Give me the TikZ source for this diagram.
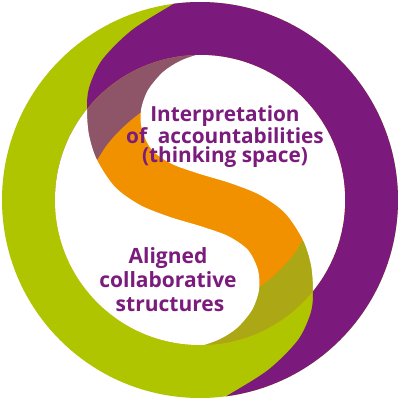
\documentclass[tikz,border=0pt]{standalone}
\usepackage{fontspec}
\setmainfont{Open Sans}
\definecolor{cpurple}{RGB}{124,25,124}
\definecolor{cgreen}{RGB}{175,197,0}
\definecolor{corange}{RGB}{242,145,0}
\definecolor{cmuted}{RGB}{142,84,104}
\definecolor{colive}{RGB}{172,167,20}
\definecolor{ctext}{RGB}{123,28,125}
\begin{document}
\begin{tikzpicture}[x=1pt,y=-1pt,
  lbl/.style={text=ctext,font=\fontsize{20.8}{24}\selectfont\bfseries,inner sep=0pt,anchor=base},
  lblb/.style={text=ctext,font=\fontsize{21}{24}\selectfont\bfseries,inner sep=0pt,anchor=base}]
\useasboundingbox (0,0) rectangle (400,400);
\fill[white] (0,0) rectangle (400,400);
\coordinate (O) at (200,200);
% ring base: green
\fill[cgreen] (O) circle (198);
% purple part of the ring
\begin{scope}
\clip (420,-20) -- (200,-20) -- plot[smooth] coordinates {(200,-12) (175,3) (132,30) (102,60) (89,88) (87,110) (89,135) (97,160)}
  -- plot[smooth] coordinates {(303,240) (311,265) (313,290) (311,312) (298,340) (268,370) (225,397) (200,412)}
  -- (200,420) -- (420,420) -- cycle;
\fill[cpurple] (O) circle (198);
\end{scope}
% inner disk: orange band
\fill[corange] (O) circle (145);
% muted (purple end of band)
\begin{scope}
\clip (O) circle (145);
\clip (-20,-20) -- (-20,200) -- plot[smooth] coordinates {(70,200) (84,179) (97,160) (106,146) (117,133) (131,120) (147,108) (167,96) (190,82) (215,68) (240,55)} -- (240,-20) -- cycle;
\fill[cmuted] (O) circle (145);
\end{scope}
% olive (green end of band)
\begin{scope}
\clip (O) circle (145);
\clip (420,420) -- (420,200) -- plot[smooth] coordinates {(330,200) (316,221) (303,240) (294,254) (283,267) (269,280) (253,292) (233,304) (210,318) (185,332) (160,345)} -- (160,420) -- cycle;
\fill[colive] (O) circle (145);
\end{scope}
% white regions
\begin{scope}
\clip (O) circle (145);
\fill[white] plot[smooth] coordinates {(200,412) (225,397) (268,370) (298,340) (311,312) (313,290) (311,265) (303,240) (285,213) (260,195) (230,183) (200,174) (172,164) (152,150) (142,130) (141,110) (148,90) (163,72) (180,61) (200,54) (220,52)}
  -- (220,-20) -- (420,-20) -- (420,420) -- (200,420) -- cycle;
\fill[white] plot[smooth] coordinates {(200,-12) (175,3) (132,30) (102,60) (89,88) (87,110) (89,135) (97,160) (115,187) (140,205) (170,217) (200,226) (228,236) (248,250) (258,270) (259,290) (252,310) (237,328) (220,339) (200,346) (180,348)}
  -- (180,420) -- (-20,420) -- (-20,-20) -- (200,-20) -- cycle;
\end{scope}
% labels
\node[lbl] (t1) at (225,121.5) {Interpretation};
\node[lbl] (t2) at (225,143) {of\ \ accountabilities};
\node[lbl] (t3) at (225,162) {(thinking space)};
\node[lblb] (b1) at (168,263) {Aligned};
\node[lblb] (b2) at (168,287) {collaborative};
\node[lblb] (b3) at (170,311.5) {structures};
\end{tikzpicture}
\end{document}
